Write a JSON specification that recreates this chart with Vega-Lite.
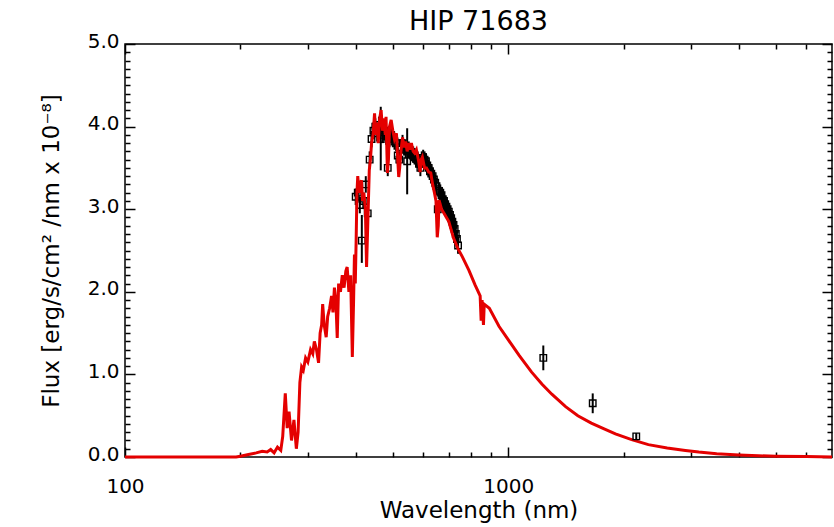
{
  "$schema": "https://vega.github.io/schema/vega-lite/v6.json",
  "width": 707,
  "height": 413,
  "autosize": {"type": "none"},
  "padding": {"left": 125, "top": 44, "right": 2, "bottom": 70},
  "background": "white",
  "title": {"text": "HIP 71683", "fontSize": 27, "font": "DejaVu Sans", "fontWeight": "normal", "offset": -5, "anchor": "middle", "color": "black"},
  "config": {
    "view": {"stroke": "black", "strokeWidth": 1.5},
    "axis": {"labelFont": "DejaVu Sans", "labelFontSize": 20, "labelColor": "black", "titleFont": "DejaVu Sans", "titleFontSize": 23, "titleFontWeight": "normal", "titleColor": "black", "domainColor": "black", "tickColor": "black", "grid": false, "domainWidth": 1.5, "tickWidth": 1.5, "labelFlush": false}
  },
  "datasets": {
    "model": [
      {"lam": 100, "flux": 0}, {"lam": 150, "flux": 0}, {"lam": 195, "flux": 0}, {"lam": 200, "flux": 0.01},
      {"lam": 210, "flux": 0.03}, {"lam": 220, "flux": 0.05}, {"lam": 228, "flux": 0.07}, {"lam": 235, "flux": 0.06},
      {"lam": 240, "flux": 0.09}, {"lam": 245, "flux": 0.05}, {"lam": 250, "flux": 0.12}, {"lam": 255, "flux": 0.08},
      {"lam": 258, "flux": 0.25}, {"lam": 262, "flux": 0.77}, {"lam": 265, "flux": 0.35}, {"lam": 268, "flux": 0.55},
      {"lam": 272, "flux": 0.2}, {"lam": 276, "flux": 0.45}, {"lam": 280, "flux": 0.1}, {"lam": 283, "flux": 0.3},
      {"lam": 286, "flux": 0.9}, {"lam": 289, "flux": 1.09}, {"lam": 292, "flux": 1.05}, {"lam": 296, "flux": 1.2},
      {"lam": 300, "flux": 1.15}, {"lam": 305, "flux": 1.3}, {"lam": 309, "flux": 1.25}, {"lam": 312, "flux": 1.4},
      {"lam": 316, "flux": 1.3}, {"lam": 320, "flux": 1.14}, {"lam": 323, "flux": 1.5}, {"lam": 326, "flux": 1.6},
      {"lam": 328, "flux": 1.85}, {"lam": 331, "flux": 1.6}, {"lam": 335, "flux": 1.45}, {"lam": 338, "flux": 1.7},
      {"lam": 342, "flux": 1.8}, {"lam": 346, "flux": 1.95}, {"lam": 349, "flux": 1.75}, {"lam": 352, "flux": 2.05},
      {"lam": 355, "flux": 1.9}, {"lam": 358, "flux": 1.44}, {"lam": 361, "flux": 2.1}, {"lam": 365, "flux": 2.0},
      {"lam": 369, "flux": 2.2}, {"lam": 373, "flux": 2.05}, {"lam": 377, "flux": 2.25}, {"lam": 380, "flux": 2.3},
      {"lam": 384, "flux": 2.0}, {"lam": 388, "flux": 2.2}, {"lam": 392, "flux": 1.21}, {"lam": 395, "flux": 1.9},
      {"lam": 397, "flux": 2.45}, {"lam": 399, "flux": 2.1}, {"lam": 401, "flux": 2.6}, {"lam": 403, "flux": 3.2},
      {"lam": 405, "flux": 3.4}, {"lam": 408, "flux": 3.2}, {"lam": 411, "flux": 3.3}, {"lam": 414, "flux": 3.35},
      {"lam": 417, "flux": 3.1}, {"lam": 420, "flux": 3.2}, {"lam": 424, "flux": 3.0}, {"lam": 427, "flux": 2.3},
      {"lam": 430, "flux": 2.8}, {"lam": 434, "flux": 3.47}, {"lam": 437, "flux": 3.6}, {"lam": 440, "flux": 3.8},
      {"lam": 444, "flux": 3.9}, {"lam": 448, "flux": 4.16}, {"lam": 451, "flux": 3.9}, {"lam": 455, "flux": 4.05},
      {"lam": 458, "flux": 3.8}, {"lam": 462, "flux": 4.1}, {"lam": 466, "flux": 4.2}, {"lam": 470, "flux": 3.95},
      {"lam": 474, "flux": 4.1}, {"lam": 478, "flux": 3.9}, {"lam": 480, "flux": 4.12}, {"lam": 484, "flux": 3.44},
      {"lam": 487, "flux": 3.6}, {"lam": 490, "flux": 4.0}, {"lam": 495, "flux": 4.08}, {"lam": 500, "flux": 3.95},
      {"lam": 505, "flux": 3.85}, {"lam": 511, "flux": 3.92}, {"lam": 515, "flux": 3.6}, {"lam": 518, "flux": 3.39},
      {"lam": 521, "flux": 3.5}, {"lam": 525, "flux": 3.7}, {"lam": 530, "flux": 3.87}, {"lam": 535, "flux": 3.75},
      {"lam": 540, "flux": 3.82}, {"lam": 545, "flux": 3.7}, {"lam": 550, "flux": 3.8}, {"lam": 555, "flux": 3.72},
      {"lam": 559, "flux": 3.8}, {"lam": 565, "flux": 3.7}, {"lam": 570, "flux": 3.68}, {"lam": 576, "flux": 3.72},
      {"lam": 580, "flux": 3.65}, {"lam": 585, "flux": 3.56}, {"lam": 589, "flux": 3.45}, {"lam": 593, "flux": 3.6},
      {"lam": 597, "flux": 3.63}, {"lam": 605, "flux": 3.5}, {"lam": 612, "flux": 3.5}, {"lam": 620, "flux": 3.45},
      {"lam": 628, "flux": 3.44}, {"lam": 635, "flux": 3.3}, {"lam": 642, "flux": 3.2}, {"lam": 648, "flux": 3.1},
      {"lam": 653, "flux": 2.66}, {"lam": 657, "flux": 2.8}, {"lam": 660, "flux": 3.11}, {"lam": 670, "flux": 3.0},
      {"lam": 680, "flux": 2.95}, {"lam": 690, "flux": 2.9}, {"lam": 700, "flux": 2.85}, {"lam": 720, "flux": 2.65},
      {"lam": 740, "flux": 2.52}, {"lam": 760, "flux": 2.42}, {"lam": 790, "flux": 2.26}, {"lam": 820, "flux": 2.08},
      {"lam": 845, "flux": 1.95}, {"lam": 850, "flux": 1.65}, {"lam": 855, "flux": 1.9}, {"lam": 862, "flux": 1.6},
      {"lam": 866, "flux": 1.85}, {"lam": 893, "flux": 1.8}, {"lam": 947, "flux": 1.58}, {"lam": 1000, "flux": 1.42},
      {"lam": 1068, "flux": 1.23}, {"lam": 1150, "flux": 1.03}, {"lam": 1226, "flux": 0.88}, {"lam": 1300, "flux": 0.76},
      {"lam": 1412, "flux": 0.61}, {"lam": 1520, "flux": 0.5}, {"lam": 1648, "flux": 0.41}, {"lam": 1780, "flux": 0.34},
      {"lam": 1905, "flux": 0.28}, {"lam": 2100, "flux": 0.21}, {"lam": 2322, "flux": 0.15}, {"lam": 2600, "flux": 0.11},
      {"lam": 2900, "flux": 0.08}, {"lam": 3143, "flux": 0.06}, {"lam": 3500, "flux": 0.04}, {"lam": 4000, "flux": 0.025},
      {"lam": 4500, "flux": 0.015}, {"lam": 5000, "flux": 0.01}, {"lam": 6000, "flux": 0.005}, {"lam": 7000, "flux": 0}
    ],
    "spec": [
      {"lam": 400, "flux": 3.15, "lo": 3.05, "hi": 3.25}, {"lam": 405, "flux": 3.2, "lo": 3.1, "hi": 3.3},
      {"lam": 410, "flux": 3.05, "lo": 2.95, "hi": 3.15}, {"lam": 415, "flux": 2.62, "lo": 2.35, "hi": 2.93},
      {"lam": 420, "flux": 3.1, "lo": 3.0, "hi": 3.2}, {"lam": 425, "flux": 3.3, "lo": 3.2, "hi": 3.4},
      {"lam": 430, "flux": 2.95, "lo": 2.85, "hi": 3.05}, {"lam": 435, "flux": 3.6, "lo": 3.5, "hi": 3.7},
      {"lam": 440, "flux": 3.85, "lo": 3.75, "hi": 3.95}, {"lam": 445, "flux": 3.95, "lo": 3.85, "hi": 4.05},
      {"lam": 450, "flux": 4.0, "lo": 3.9, "hi": 4.1}, {"lam": 455, "flux": 3.92, "lo": 3.82, "hi": 4.02},
      {"lam": 460, "flux": 4.02, "lo": 3.92, "hi": 4.12}, {"lam": 465, "flux": 3.85, "lo": 3.47, "hi": 4.24},
      {"lam": 470, "flux": 3.9, "lo": 3.8, "hi": 4.0}, {"lam": 475, "flux": 3.95, "lo": 3.85, "hi": 4.05},
      {"lam": 480, "flux": 3.88, "lo": 3.78, "hi": 3.98}, {"lam": 485, "flux": 3.5, "lo": 3.4, "hi": 3.6},
      {"lam": 490, "flux": 3.85, "lo": 3.75, "hi": 3.95}, {"lam": 495, "flux": 3.9, "lo": 3.8, "hi": 4.0},
      {"lam": 500, "flux": 3.85, "lo": 3.75, "hi": 3.95}, {"lam": 505, "flux": 3.82, "lo": 3.72, "hi": 3.92},
      {"lam": 510, "flux": 3.8, "lo": 3.7, "hi": 3.9}, {"lam": 515, "flux": 3.65, "lo": 3.55, "hi": 3.75},
      {"lam": 520, "flux": 3.6, "lo": 3.5, "hi": 3.7}, {"lam": 525, "flux": 3.75, "lo": 3.65, "hi": 3.85},
      {"lam": 530, "flux": 3.8, "lo": 3.7, "hi": 3.9}, {"lam": 535, "flux": 3.75, "lo": 3.65, "hi": 3.85},
      {"lam": 540, "flux": 3.72, "lo": 3.62, "hi": 3.82}, {"lam": 545, "flux": 3.58, "lo": 3.18, "hi": 3.98},
      {"lam": 550, "flux": 3.72, "lo": 3.62, "hi": 3.82}, {"lam": 555, "flux": 3.7, "lo": 3.6, "hi": 3.8},
      {"lam": 560, "flux": 3.68, "lo": 3.58, "hi": 3.78}, {"lam": 565, "flux": 3.66, "lo": 3.56, "hi": 3.76},
      {"lam": 570, "flux": 3.64, "lo": 3.54, "hi": 3.74}, {"lam": 575, "flux": 3.62, "lo": 3.52, "hi": 3.72},
      {"lam": 580, "flux": 3.6, "lo": 3.5, "hi": 3.7}, {"lam": 585, "flux": 3.55, "lo": 3.45, "hi": 3.65},
      {"lam": 590, "flux": 3.5, "lo": 3.4, "hi": 3.6}, {"lam": 595, "flux": 3.6, "lo": 3.5, "hi": 3.7},
      {"lam": 600, "flux": 3.62, "lo": 3.52, "hi": 3.72}, {"lam": 605, "flux": 3.6, "lo": 3.5, "hi": 3.7},
      {"lam": 610, "flux": 3.58, "lo": 3.48, "hi": 3.68}, {"lam": 615, "flux": 3.53, "lo": 3.43, "hi": 3.63},
      {"lam": 620, "flux": 3.5, "lo": 3.4, "hi": 3.6}, {"lam": 625, "flux": 3.46, "lo": 3.36, "hi": 3.56},
      {"lam": 630, "flux": 3.43, "lo": 3.33, "hi": 3.53}, {"lam": 635, "flux": 3.4, "lo": 3.3, "hi": 3.5},
      {"lam": 640, "flux": 3.36, "lo": 3.26, "hi": 3.46}, {"lam": 645, "flux": 3.32, "lo": 3.22, "hi": 3.42},
      {"lam": 650, "flux": 3.28, "lo": 3.18, "hi": 3.38}, {"lam": 655, "flux": 3.0, "lo": 2.9, "hi": 3.1},
      {"lam": 660, "flux": 3.22, "lo": 3.12, "hi": 3.32}, {"lam": 665, "flux": 3.2, "lo": 3.1, "hi": 3.3},
      {"lam": 670, "flux": 3.17, "lo": 3.07, "hi": 3.27}, {"lam": 675, "flux": 3.12, "lo": 3.02, "hi": 3.22},
      {"lam": 680, "flux": 3.1, "lo": 3.0, "hi": 3.2}, {"lam": 685, "flux": 3.06, "lo": 2.96, "hi": 3.16},
      {"lam": 690, "flux": 3.03, "lo": 2.93, "hi": 3.13}, {"lam": 695, "flux": 3.0, "lo": 2.9, "hi": 3.1},
      {"lam": 700, "flux": 2.97, "lo": 2.87, "hi": 3.07}, {"lam": 705, "flux": 2.93, "lo": 2.83, "hi": 3.03},
      {"lam": 710, "flux": 2.89, "lo": 2.79, "hi": 2.99}, {"lam": 715, "flux": 2.85, "lo": 2.75, "hi": 2.95},
      {"lam": 720, "flux": 2.81, "lo": 2.71, "hi": 2.91}, {"lam": 725, "flux": 2.76, "lo": 2.66, "hi": 2.86},
      {"lam": 730, "flux": 2.7, "lo": 2.6, "hi": 2.8}, {"lam": 735, "flux": 2.64, "lo": 2.54, "hi": 2.74},
      {"lam": 740, "flux": 2.56, "lo": 2.46, "hi": 2.66}
    ],
    "phot": [
      {"lam": 1235, "flux": 1.2, "lo": 1.05, "hi": 1.35},
      {"lam": 1662, "flux": 0.65, "lo": 0.53, "hi": 0.77},
      {"lam": 2159, "flux": 0.25, "lo": 0.21, "hi": 0.29}
    ]
  },
  "layer": [
    {
      "data": {"name": "spec"},
      "mark": {"type": "rule", "color": "black", "strokeWidth": 2},
      "encoding": {
        "x": {"field": "lam", "type": "quantitative", "scale": {"type": "log", "domain": [100, 7000], "nice": false},
              "axis": {"orient": "bottom", "values": [200, 300, 400, 500, 600, 700, 800, 900, 2000, 3000, 4000, 5000, 6000], "tickSize": -5, "labels": false, "domain": false, "title": null}},
        "y": {"field": "lo", "type": "quantitative", "scale": {"domain": [0, 5], "nice": false, "zero": false},
              "axis": {"orient": "left", "values": [0.1,0.2,0.3,0.4,0.5,0.6,0.7,0.8,0.9,1.1,1.2,1.3,1.4,1.5,1.6,1.7,1.8,1.9,2.1,2.2,2.3,2.4,2.5,2.6,2.7,2.8,2.9,3.1,3.2,3.3,3.4,3.5,3.6,3.7,3.8,3.9,4.1,4.2,4.3,4.4,4.5,4.6,4.7,4.8,4.9], "tickSize": -5, "labels": false, "domain": false, "title": null}},
        "y2": {"field": "hi"}
      }
    },
    {
      "data": {"name": "phot"},
      "mark": {"type": "rule", "color": "black", "strokeWidth": 2},
      "encoding": {
        "x": {"field": "lam", "type": "quantitative",
              "axis": {"orient": "top", "values": [200, 300, 400, 500, 600, 700, 800, 900, 2000, 3000, 4000, 5000, 6000], "tickSize": -5, "labels": false, "domain": false, "title": null}},
        "y": {"field": "lo", "type": "quantitative",
              "axis": {"orient": "right", "values": [0.1,0.2,0.3,0.4,0.5,0.6,0.7,0.8,0.9,1.1,1.2,1.3,1.4,1.5,1.6,1.7,1.8,1.9,2.1,2.2,2.3,2.4,2.5,2.6,2.7,2.8,2.9,3.1,3.2,3.3,3.4,3.5,3.6,3.7,3.8,3.9,4.1,4.2,4.3,4.4,4.5,4.6,4.7,4.8,4.9], "tickSize": -5, "labels": false, "domain": false, "title": null}},
        "y2": {"field": "hi"}
      }
    },
    {
      "data": {"name": "spec"},
      "mark": {"type": "point", "shape": "square", "filled": false, "color": "black", "strokeWidth": 1.4, "size": 42, "opacity": 1},
      "encoding": {
        "x": {"field": "lam", "type": "quantitative",
              "axis": {"orient": "top", "values": [100, 1000], "tickSize": -10, "labels": false, "domain": false, "title": null}},
        "y": {"field": "flux", "type": "quantitative",
              "axis": {"orient": "right", "values": [0, 1, 2, 3, 4, 5], "tickSize": -10, "labels": false, "domain": false, "title": null}}
      }
    },
    {
      "data": {"name": "model"},
      "mark": {"type": "line", "color": "#e40000", "strokeWidth": 3, "interpolate": "linear"},
      "encoding": {
        "x": {"field": "lam", "type": "quantitative",
              "axis": {"orient": "bottom", "values": [100, 1000], "format": "d", "tickSize": -10, "labelPadding": 29, "domain": false, "title": "Wavelength (nm)", "titlePadding": 3}},
        "y": {"field": "flux", "type": "quantitative",
              "axis": {"orient": "left", "values": [0, 1, 2, 3, 4, 5], "format": ".1f", "tickSize": -10, "labelPadding": 16, "labelOffset": -3, "domain": false, "title": "Flux [erg/s/cm² /nm x 10⁻⁸]", "titlePadding": 24}}
      }
    },
    {
      "data": {"name": "phot"},
      "mark": {"type": "point", "shape": "square", "filled": false, "color": "black", "strokeWidth": 1.4, "size": 42, "opacity": 1},
      "encoding": {
        "x": {"field": "lam", "type": "quantitative", "axis": null},
        "y": {"field": "flux", "type": "quantitative", "axis": null}
      }
    }
  ],
  "resolve": {"axis": {"x": "independent", "y": "independent"}}
}
